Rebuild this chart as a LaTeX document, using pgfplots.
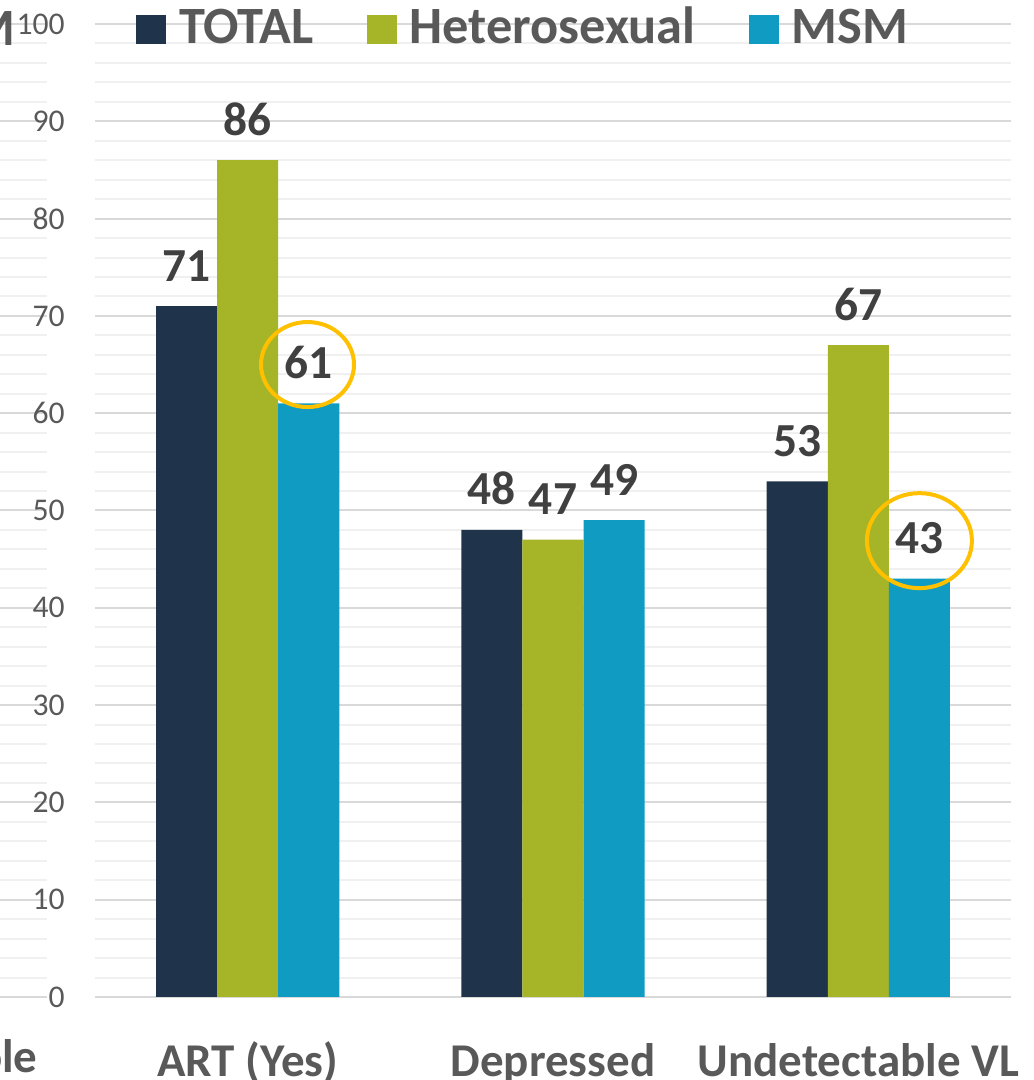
\documentclass[border=0pt]{standalone}
\usepackage{pgfplots}
\pgfplotsset{compat=1.18}
\usepackage{fontspec}
\setmainfont{Carlito}
\definecolor{cTotal}{HTML}{1F344B}
\definecolor{cHet}{HTML}{A6B427}
\definecolor{cMsm}{HTML}{0F9BC2}
\definecolor{txtgray}{HTML}{595959}
\definecolor{lblgray}{HTML}{404040}
\definecolor{majgrid}{HTML}{D9D9D9}
\definecolor{mingrid}{HTML}{F0F0F0}
\definecolor{gold}{HTML}{FFC000}
\begin{document}
\begin{tikzpicture}
\useasboundingbox (0,0) rectangle (516.5pt,540pt);
\clip (0,0) rectangle (516.5pt,540pt);
% strip of the neighbouring chart
\begin{axis}[scale only axis, width=23.5pt, height=486.5pt, at={(0pt,41.5pt)}, anchor=south west,
  xmin=0, xmax=1, ymin=0, ymax=100, ytick distance=10, minor y tick num=4,
  ymajorgrids, yminorgrids, xtick=\empty, yticklabels={},
  axis line style={draw=none}, tick style={draw=none},
  major grid style={majgrid, line width=1pt}, minor grid style={mingrid, line width=1pt}]
\addplot[draw=none, mark=none] coordinates {(0.5,50)};
\end{axis}
\begin{axis}[scale only axis, width=458pt, height=486.5pt, at={(47.5pt,41.5pt)}, anchor=south west,
  xmin=-0.5, xmax=2.5, ymin=0, ymax=100,
  xtick={0,1,2}, xticklabels={ART (Yes), Depressed, Undetectable VL},
  ytick distance=10, minor y tick num=4, ymajorgrids, yminorgrids,
  major grid style={majgrid, line width=1pt}, minor grid style={mingrid, line width=1pt},
  axis line style={draw=none}, tick style={draw=none},
  /pgf/number format/assume math mode=true,
  yticklabel style={font=\fontsize{15.8}{18}\selectfont, text=txtgray, anchor=east, inner sep=0pt, xshift=-15pt},
  xticklabel style={font=\fontsize{23.5}{28}\selectfont\bfseries, text=txtgray, anchor=base, inner sep=0pt, yshift=-35.5pt},
  ybar=0pt, bar width=30.53pt,
  nodes near coords,
  every node near coord/.append style={font=\fontsize{23.7}{28}\selectfont\bfseries, text=lblgray, anchor=base, inner sep=0pt, yshift=12.5pt},
  legend columns=3,
  legend style={at={(axis description cs:0.0448,1.01336)}, anchor=north west, draw=none, fill=none,
    inner sep=0pt, outer sep=0pt, font=\fontsize{26.2}{30}\selectfont\bfseries, text=txtgray,
    nodes={inner sep=0pt, text height=16.5pt, text depth=0pt, text=txtgray},
    /tikz/every odd column/.append style={column sep=6.5pt},
    /tikz/every even column/.append style={column sep=26.5pt}},
  legend image code/.code={\fill[#1,draw=none] (0pt,-8.25pt) rectangle (15pt,6.25pt);}
]
\addplot[fill=cTotal, draw=none] coordinates {(0,71) (1,48) (2,53)};
\addplot[fill=cHet, draw=none] coordinates {(0,86) (1,47) (2,67)};
\addplot[fill=cMsm, draw=none] coordinates {(0,61) (1,49) (2,43)};
\legend{TOTAL, Heterosexual, MSM}
\draw[gold, line width=2pt] (axis cs:0.196,65.0) ellipse [x radius=23.25pt, y radius=21.25pt];
\draw[gold, line width=2pt] (axis cs:2.200,46.9) ellipse [x radius=26.25pt, y radius=23.75pt];
\end{axis}
\node[anchor=base east, inner sep=0pt, font=\fontsize{26.2}{30}\selectfont\bfseries, text=txtgray] at (7.75pt,517pt) {MSM};
\node[anchor=base east, inner sep=0pt, font=\fontsize{23.5}{28}\selectfont\bfseries, text=txtgray] at (19pt,3.5pt) {Whole};
\end{tikzpicture}
\end{document}
